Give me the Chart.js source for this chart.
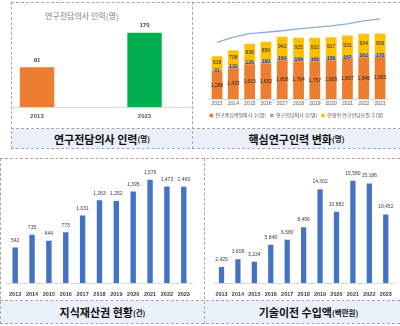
<!DOCTYPE html>
<html><head><meta charset="utf-8">
<script src="https://cdn.jsdelivr.net/npm/chart.js@4.4.1/dist/chart.umd.min.js"></script>
<style>
html,body{margin:0;padding:0;background:#fff;width:400px;height:326px;overflow:hidden;font-family:"Noto Sans CJK KR",sans-serif;}
.ln{position:absolute;box-sizing:border-box;border:0 dashed #a6a6a6;}
.cv{position:absolute;}
.strip{position:absolute;background:#eaf0f9;display:flex;align-items:center;justify-content:center;font-weight:bold;font-size:11px;color:#111;white-space:nowrap;}
.strip small{font-size:7.5px;font-weight:bold;}
.ctitle{position:absolute;font-size:8px;color:#808080;white-space:nowrap;}
</style></head>
<body>
<!-- strips -->
<div class="strip" style="left:12px;top:129px;width:180px;height:19px;">연구전담의사 인력<small>(명)</small></div>
<div class="strip" style="left:193px;top:129px;width:207px;height:19px;">핵심연구인력 변화<small>(명)</small></div>
<div class="strip" style="left:1px;top:301px;width:203px;height:22px;">지식재산권 현황<small>(건)</small></div>
<div class="strip" style="left:205px;top:301px;width:195px;height:22px;padding-left:12px;box-sizing:border-box;">기술이전 수입액<small>(백만원)</small></div>
<!-- dashed frames -->
<div class="ln" style="left:11px;top:2px;width:400px;height:147px;border-width:1px;"></div>
<div class="ln" style="left:192px;top:2px;width:1px;height:147px;border-left-width:1px;"></div>
<div class="ln" style="left:11px;top:128px;width:400px;height:1px;border-top-width:1px;"></div>
<div class="ln" style="left:0px;top:158px;width:410px;height:166px;border-width:1px;"></div>
<div class="ln" style="left:204px;top:158px;width:1px;height:166px;border-left-width:1px;"></div>
<div class="ln" style="left:0px;top:300px;width:410px;height:1px;border-top-width:1px;"></div>

<div class="ctitle" style="left:45px;top:10px;">연구전담의사 인력(명)</div>

<canvas id="c1" class="cv" style="left:12px;top:3px;" width="180" height="125"></canvas>
<canvas id="c2" class="cv" style="left:193px;top:3px;" width="207" height="125"></canvas>
<canvas id="c3" class="cv" style="left:1px;top:159px;" width="203" height="141"></canvas>
<canvas id="c4" class="cv" style="left:205px;top:159px;" width="195" height="141"></canvas>

<script>
// ---------- data ----------
const years = ['2013','2014','2015','2016','2017','2018','2019','2020','2021','2022','2023'];

const docYears = ['2013','2023'];
const docValues = [91, 170];

const hospitalDoctors = [1288,1433,1615,1652,1808,1764,1757,1809,1867,1946,1953];
const dedicatedDoctors = [91,130,126,160,150,169,166,155,157,162,170];
const jointResearchers = [619,708,838,856,942,925,932,917,931,934,936];
const totalLine = [2641,2890,3043,3112,3181,3273,3342,3411,3504,3642,3734];
const legendNames = ['연구중심병원의사 수(명)','연구전담의사 수(명)','연합형 연구전담요원 수(명)'];

const ipCounts = [542,735,644,775,1031,1263,1252,1395,1576,1473,1469];
const techIncome = [2429,3608,3234,5848,6580,8490,14302,10882,15580,15186,10452];

// ---------- helpers ----------
Chart.defaults.font.family = "'Noto Sans CJK KR','Liberation Sans',sans-serif";
Chart.defaults.animation = false;
Chart.defaults.responsive = false;

const valueLabels = {
  id: 'valueLabels',
  afterDatasetsDraw(chart, args, opts) {
    if (!opts || !opts.enabled) return;
    const ctx = chart.ctx;
    ctx.save();
    ctx.font = opts.font;
    ctx.fillStyle = opts.color;
    ctx.textAlign = 'center';
    ctx.textBaseline = 'middle';
    chart.data.datasets.forEach((ds, di) => {
      if (ds.type === 'line') return;
      const meta = chart.getDatasetMeta(di);
      meta.data.forEach((el, i) => {
        const raw = ds.data[i];
        const v = (typeof raw === 'object') ? raw.y : raw;
        const y = opts.mode === 'center' ? (el.y + el.base) / 2 : el.y - opts.offset;
        ctx.fillText(v.toLocaleString('en-US'), el.x, y);
      });
    });
    ctx.restore();
  }
};
Chart.register(valueLabels);

// ---------- chart 1 ----------
new Chart(document.getElementById('c1'), {
  type: 'bar',
  data: {
    datasets: [{
      data: docValues.map((v, i) => ({x: i, y: v})),
      backgroundColor: ['#ED7D31', '#00B050'],
      barPercentage: 0.32, categoryPercentage: 1
    }]
  },
  options: {
    layout: {padding: {top: 16.6, right: 2, left: 0, bottom: 7}},
    plugins: {legend: {display: false}, tooltip: {enabled: false},
      valueLabels: {enabled: true, font: 'bold 6px "Liberation Sans"', color: '#404040', offset: 7}},
    scales: {
      x: {type: 'linear', min: -0.233, max: 1.423, offset: false,
        grid: {display: false, drawTicks: false}, border: {display: true, color: '#d9d9d9'},
        afterBuildTicks: s => { s.ticks = docYears.map((_, i) => ({value: i})); },
        afterFit: s => { s.height = 14; },
        ticks: {autoSkip: false, padding: 6, color: '#595959', font: {size: 6, weight: 'bold', family: 'Liberation Sans'},
          callback: v => docYears[v]}},
      y: {display: false, min: 0, max: 200}
    }
  }
});

// ---------- chart 2 ----------
new Chart(document.getElementById('c2'), {
  type: 'bar',
  data: {
    labels: years,
    datasets: [
      {type: 'line', data: totalLine, borderColor: '#8FAADC', borderWidth: 1.3, pointRadius: 0, stack: 'line', tension: 0},
      {label: legendNames[0], data: hospitalDoctors, backgroundColor: '#ED7D31', stack: 's', barPercentage: 0.66, categoryPercentage: 1},
      {label: legendNames[1], data: dedicatedDoctors, backgroundColor: '#A5A5A5', stack: 's', barPercentage: 0.66, categoryPercentage: 1},
      {label: legendNames[2], data: jointResearchers, backgroundColor: '#FFC000', stack: 's', barPercentage: 0.66, categoryPercentage: 1}
    ]
  },
  options: {
    layout: {padding: {top: 10.2, right: 0, left: 0, bottom: 0}},
    plugins: {
      tooltip: {enabled: false},
      legend: {position: 'bottom',
        labels: {filter: it => it.datasetIndex !== 0, boxWidth: 3.5, boxHeight: 3.5, padding: 4,
          color: '#595959', font: {size: 5}}},
      valueLabels: {enabled: true, mode: 'center', font: '5px "Liberation Sans"', color: '#262626'}
    },
    scales: {
      x: {stacked: true, grid: {display: false, drawTicks: false}, border: {display: true, color: '#d9d9d9'},
        afterFit: s => { s.height = 10; },
        ticks: {padding: 2, color: '#595959', font: {size: 5, family: 'Liberation Sans'}, autoSkip: false, maxRotation: 0}},
      y: {stacked: true, display: true, min: 0, max: 4000,
        ticks: {display: false}, grid: {display: false, drawTicks: false}, border: {display: false},
        afterFit: s => { s.width = 15.9; }},
      yR: {position: 'right', display: true, min: 0, max: 4000,
        ticks: {display: false}, grid: {display: false, drawTicks: false}, border: {display: false},
        afterFit: s => { s.width = 11.8; }}
    }
  }
});

// ---------- charts 3 & 4 ----------
function blueBars(id, values, max, pad, offset) {
  new Chart(document.getElementById(id), {
    type: 'bar',
    data: {labels: years, datasets: [{data: values, backgroundColor: '#4472C4', barPercentage: 0.32, categoryPercentage: 1}]},
    options: {
      layout: {padding: pad},
      plugins: {legend: {display: false}, tooltip: {enabled: false},
        valueLabels: {enabled: true, font: '5px "Liberation Sans"', color: '#404040', offset: offset}},
      scales: {
        x: {grid: {display: false, drawTicks: false}, border: {display: true, color: '#d9d9d9'},
          afterFit: s => { s.height = 13; },
          ticks: {padding: 8, color: '#404040', font: {size: 5.5, weight: 'bold', family: 'Liberation Sans'}, autoSkip: false, maxRotation: 0}},
        y: {display: false, min: 0, max: max}
      }
    }
  });
}
blueBars('c3', ipCounts, 1800, {top: 6, right: 11.8, left: 1.4, bottom: 4}, 7);
blueBars('c4', techIncome, 18000, {top: 6, right: 2.6, left: 8.3, bottom: 4}, 7.5);
</script>
</body></html>
